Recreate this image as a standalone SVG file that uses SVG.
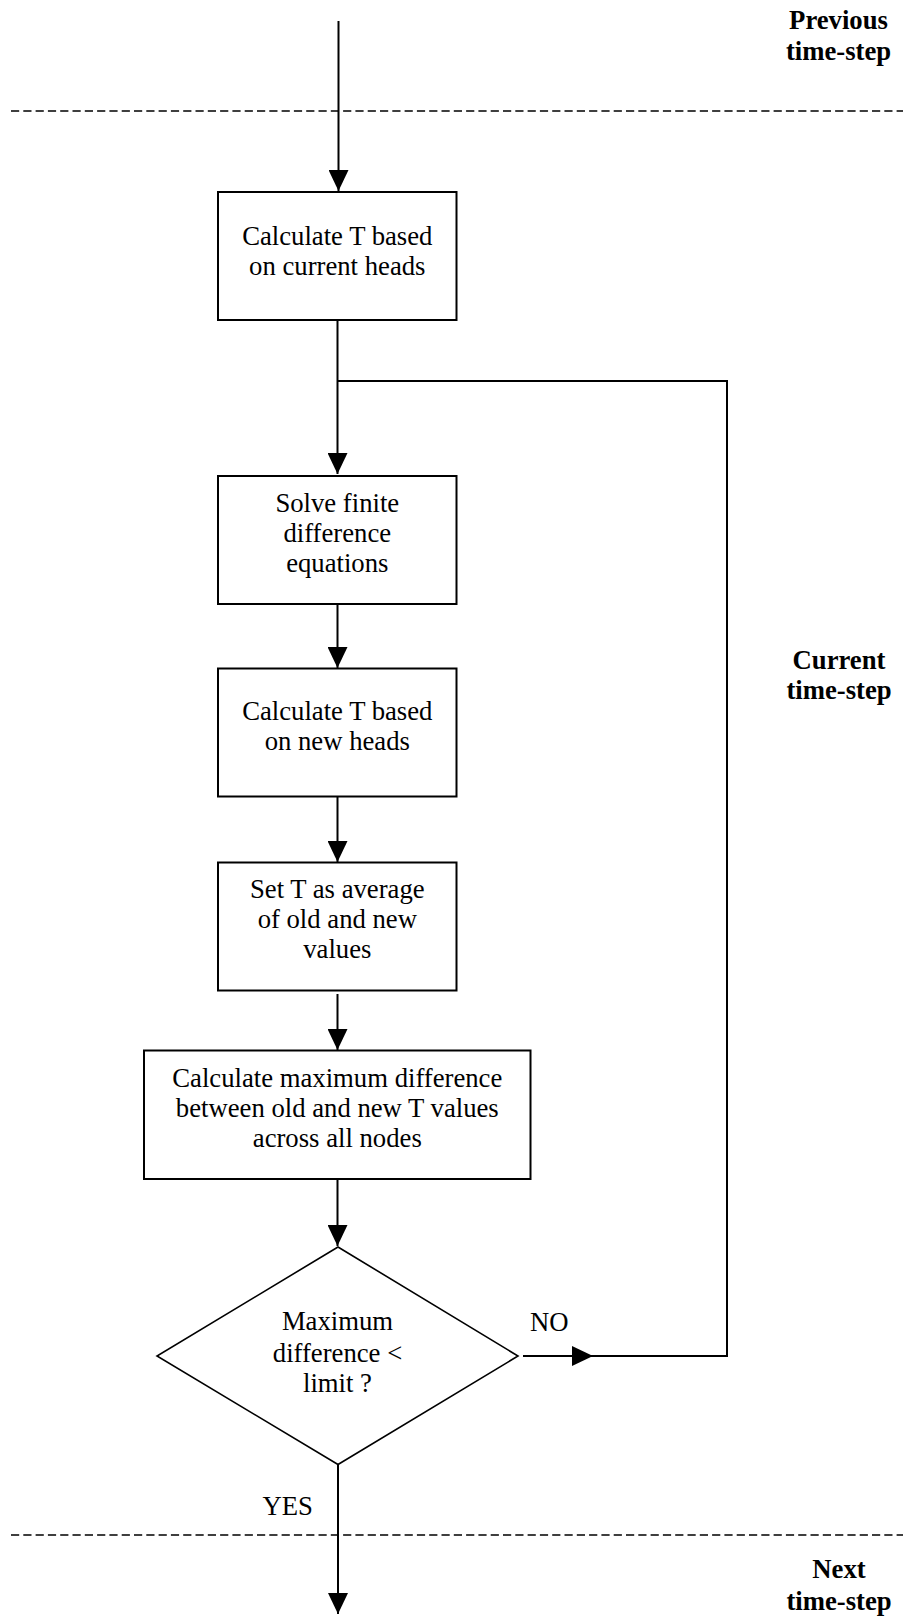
<svg xmlns="http://www.w3.org/2000/svg" width="903" height="1618" viewBox="0 0 903 1618">
  <style>
    .box { fill: #ffffff; stroke: #000000; stroke-width: 2; }
    .dia { fill: #ffffff; stroke: #000000; stroke-width: 1.6; }
    .wire { fill: none; stroke: #000000; stroke-width: 2; }
    .sep { fill: none; stroke: #000000; stroke-width: 1.6; stroke-dasharray: 8.2 4.1; }
    .t { font-family: "Liberation Serif", "Times New Roman", serif; font-size: 26.7px; fill: #000000; text-anchor: middle; }
    .l { text-anchor: start; }
    .b { font-weight: bold; }
  </style>
  <defs>
    <marker id="arrow" markerUnits="userSpaceOnUse" markerWidth="21" markerHeight="20" refX="21" refY="10" orient="auto">
      <path d="M0,0 L21,10 L0,20 Z" fill="#000000"/>
    </marker>
  </defs>

  <!-- time-step separators -->
  <g id="separators">
    <line class="sep" x1="11" y1="111" x2="903" y2="111"/>
    <line class="sep" x1="11" y1="1535" x2="903" y2="1535"/>
  </g>

  <!-- phase labels -->
  <g id="label-previous">
    <text class="t b" x="838.5" y="29">Previous</text>
    <text class="t b" x="838.5" y="60">time-step</text>
  </g>
  <g id="label-current">
    <text class="t b" x="839" y="669">Current</text>
    <text class="t b" x="839" y="699">time-step</text>
  </g>
  <g id="label-next">
    <text class="t b" x="839" y="1578">Next</text>
    <text class="t b" x="839" y="1610">time-step</text>
  </g>

  <!-- connectors -->
  <g id="connectors">
    <path class="wire" d="M338.5,21 V191" marker-end="url(#arrow)"/>
    <path class="wire" d="M337.5,320 V474" marker-end="url(#arrow)"/>
    <path class="wire" d="M337.5,604 V668" marker-end="url(#arrow)"/>
    <path class="wire" d="M337.5,797 V862" marker-end="url(#arrow)"/>
    <path class="wire" d="M337.5,994 V1050" marker-end="url(#arrow)"/>
    <path class="wire" d="M337.5,1179 V1246" marker-end="url(#arrow)"/>
    <path class="wire" d="M523,1356 H593" marker-end="url(#arrow)"/>
    <path class="wire" d="M592,1356 H727 V381 H337.5"/>
    <path class="wire" d="M338,1464 V1614" marker-end="url(#arrow)"/>
    <text class="t l" x="530" y="1331">NO</text>
    <text class="t l" x="262.5" y="1515">YES</text>
  </g>

  <g id="calc-current">
    <rect class="box" x="218" y="192" width="238.5" height="128"/>
    <text class="t" x="337.3" y="245">Calculate T based</text>
    <text class="t" x="337.3" y="275">on current heads</text>
  </g>

  <g id="solve-fd">
    <rect class="box" x="218" y="476" width="238.5" height="128"/>
    <text class="t" x="337.3" y="512">Solve finite</text>
    <text class="t" x="337.3" y="542">difference</text>
    <text class="t" x="337.3" y="572">equations</text>
  </g>

  <g id="calc-new">
    <rect class="box" x="218" y="668.5" width="238.5" height="128"/>
    <text class="t" x="337.3" y="720">Calculate T based</text>
    <text class="t" x="337.3" y="750">on new heads</text>
  </g>

  <g id="average">
    <rect class="box" x="218" y="862.5" width="238.5" height="128"/>
    <text class="t" x="337.3" y="898">Set T as average</text>
    <text class="t" x="337.3" y="928">of old and new</text>
    <text class="t" x="337.3" y="958">values</text>
  </g>

  <g id="max-diff">
    <rect class="box" x="144" y="1050.5" width="386.5" height="128.5"/>
    <text class="t" x="337.3" y="1087">Calculate maximum difference</text>
    <text class="t" x="337.3" y="1117">between old and new T values</text>
    <text class="t" x="337.3" y="1147">across all nodes</text>
  </g>

  <g id="check-limit">
    <polygon class="dia" points="338,1247 518,1356 338,1464.5 157,1356"/>
    <text class="t" x="337.5" y="1330">Maximum</text>
    <text class="t" x="337.5" y="1361.5">difference &lt;</text>
    <text class="t" x="337.5" y="1392">limit ?</text>
  </g>
</svg>
